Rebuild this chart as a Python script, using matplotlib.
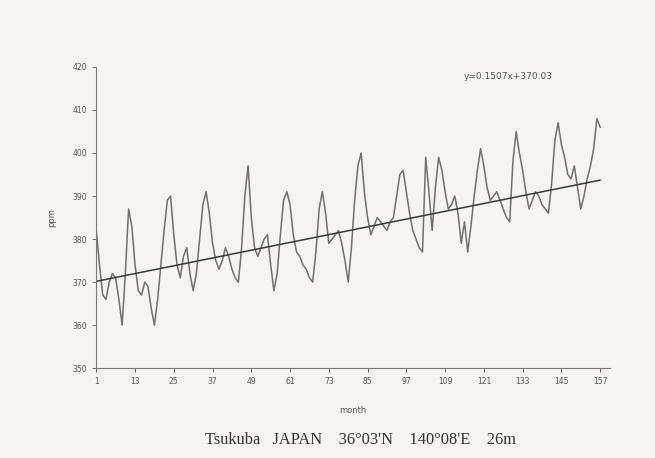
import matplotlib.pyplot as plt
import numpy as np

# monthly CO2 at Tsukuba (ppm)
co2 = [382, 374, 367, 366, 370, 372, 371, 366, 360, 372, 387, 383,
       374, 368, 367, 370, 369, 364, 360, 366, 374, 382, 389, 390,
       381, 374, 371, 376, 378, 372, 368, 372, 380, 388, 391, 386,
       379, 375, 373, 375, 378, 376, 373, 371, 370, 378, 390, 397,
       385, 378, 376, 378, 380, 381, 374, 368, 372, 381, 389, 391,
       388, 381, 377, 376, 374, 373, 371, 370, 377, 387, 391, 386,
       379, 380, 381, 382, 379, 375, 370, 378, 389, 397, 400, 391,
       385, 381, 383, 385, 384, 383, 382, 384, 385, 390, 395, 396,
       391, 386, 382, 380, 378, 377, 399, 391, 382, 392, 399, 396,
       391, 387, 388, 390, 386, 379, 384, 377, 383, 390, 396, 401,
       397, 392, 389, 390, 391, 389, 387, 385, 384, 398, 405, 400,
       396, 391, 387, 389, 391, 390, 388, 387, 386, 393, 403, 407,
       402, 399, 395, 394, 397, 392, 387, 390, 394, 397, 401, 408,
       406]
months = np.arange(1, len(co2) + 1)

slope = 0.1507
intercept = 370.03
xticks = list(range(1, 158, 12))
yticks = list(range(350, 421, 10))

bg = '#f6f3f0'
fig = plt.figure(figsize=(6.55, 4.58), dpi=100, facecolor=bg)
ax = fig.add_axes([0.147, 0.196, 0.784, 0.658], facecolor=bg)

ax.plot(months, co2, color='#707070', lw=1.1)
ax.plot(months, slope * months + intercept, color='#3a3a3a', lw=1.1)

ax.set_xlim(1, 160)
ax.set_ylim(350, 420)
ax.set_xticks(xticks)
ax.set_yticks(yticks)
ax.tick_params(labelsize=5.5, colors='#555555', length=3, width=0.6)
for s in ['top', 'right']:
    ax.spines[s].set_visible(False)
for s in ['left', 'bottom']:
    ax.spines[s].set_color('#777777')
    ax.spines[s].set_linewidth(0.8)

ax.set_xlabel('month', fontsize=6, color='#555555', labelpad=14)
ax.set_ylabel('ppm', fontsize=6, color='#555555', labelpad=12)

ax.text(0.715, 0.967, 'y=0.1507x+370.03', transform=ax.transAxes,
        fontsize=6.5, color='#555555', va='center', ha='left')

fig.text(0.313, 0.04, "Tsukuba   JAPAN    36\u00b003'N    140\u00b008'E    26m",
         fontsize=11.8, family='Liberation Serif', color='#333333',
         ha='left', va='center')

fig.savefig('out.png', dpi=100, facecolor=bg)
